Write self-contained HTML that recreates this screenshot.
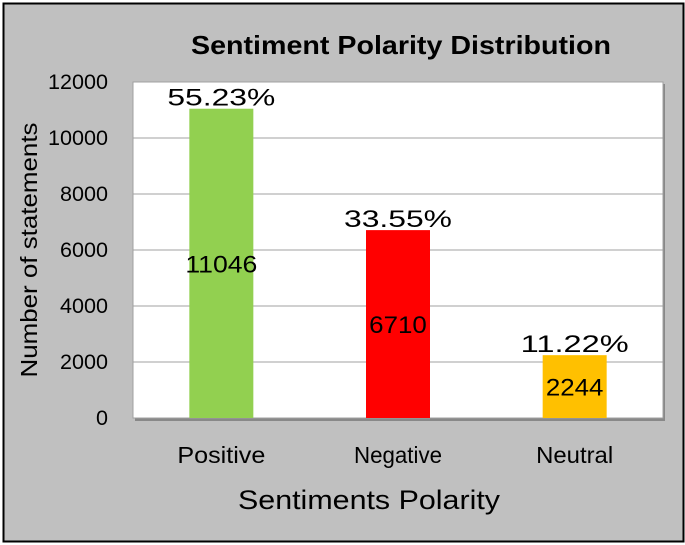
<!DOCTYPE html>
<html><head><meta charset="utf-8"><style>
body{margin:0;background:#fff;}
svg{display:block;font-family:"Liberation Sans",sans-serif;}
</style></head><body>
<svg id="chart" width="685" height="545">
<rect x="3.5" y="3.5" width="680" height="538" fill="#c0c0c0" stroke="#000" stroke-width="2"/>
<text x="401" y="54" text-anchor="middle" font-size="26" font-weight="bold" textLength="420" lengthAdjust="spacingAndGlyphs">Sentiment Polarity Distribution</text>
<rect x="135" y="84" width="530" height="337" fill="#888"/>
<rect x="133" y="82" width="530" height="336" fill="#fff" stroke="#a0a0a0" stroke-width="1"/>
<g id="grid"></g><g id="bars"></g><g id="ticks"></g>
<text transform="translate(37,250) rotate(-90)" text-anchor="middle" font-size="23" textLength="255" lengthAdjust="spacingAndGlyphs">Number of statements</text>
<text x="369" y="509" text-anchor="middle" font-size="27" textLength="262" lengthAdjust="spacingAndGlyphs">Sentiments Polarity</text>
</svg>
<script>
const categories=["Positive","Negative","Neutral"];
const values=[11046,6710,2244];
const percents=["55.23%","33.55%","11.22%"];
const colors=["#92d050","#ff0000","#ffc000"];
const yTicks=[0,2000,4000,6000,8000,10000,12000];
const NS="http://www.w3.org/2000/svg";
const x0=133,w=530,yTop=82,yBot=418,yMax=12000;
const y=v=>yBot-(v/yMax)*(yBot-yTop);
const bw=w/categories.length;
const xc=i=>x0+bw*(i+0.5);
function mk(t,a,p){const e=document.createElementNS(NS,t);for(const k in a)e.setAttribute(k,a[k]);p.appendChild(e);return e;}
const grid=document.getElementById('grid'),bars=document.getElementById('bars'),ticks=document.getElementById('ticks');
yTicks.forEach(v=>{
 if(v>0&&v<yMax){const l=mk('line',{x1:x0,x2:x0+w,y1:y(v),y2:y(v),stroke:'#a0a0a0','stroke-width':1},grid);
 
 }
 const s=String(v);
 const t=mk('text',{x:108,y:y(v)+7,'text-anchor':'end','font-size':21,textLength:s.length*12,lengthAdjust:'spacingAndGlyphs'},ticks);t.textContent=s;
 
 
});
categories.forEach((c,i)=>{
 const r=mk('rect',{x:xc(i)-32,y:y(values[i]),width:64,height:yBot-y(values[i]),fill:colors[i]},bars);
 
 
 const vs=String(values[i]);
 const v=mk('text',{x:xc(i),y:(y(values[i])+yBot)/2+9,'text-anchor':'middle','font-size':24,textLength:vs.length*14.4,lengthAdjust:'spacingAndGlyphs'},bars);v.textContent=vs;
 
 
 const p=mk('text',{x:xc(i),y:y(values[i])-3,'text-anchor':'middle','font-size':24,textLength:108,lengthAdjust:'spacingAndGlyphs'},bars);p.textContent=percents[i];
 
 
 const t=mk('text',{x:xc(i),y:463,'text-anchor':'middle','font-size':23,textLength:c.length*11,lengthAdjust:'spacingAndGlyphs'},ticks);t.textContent=c;
 
 
});
</script>
</body></html>
